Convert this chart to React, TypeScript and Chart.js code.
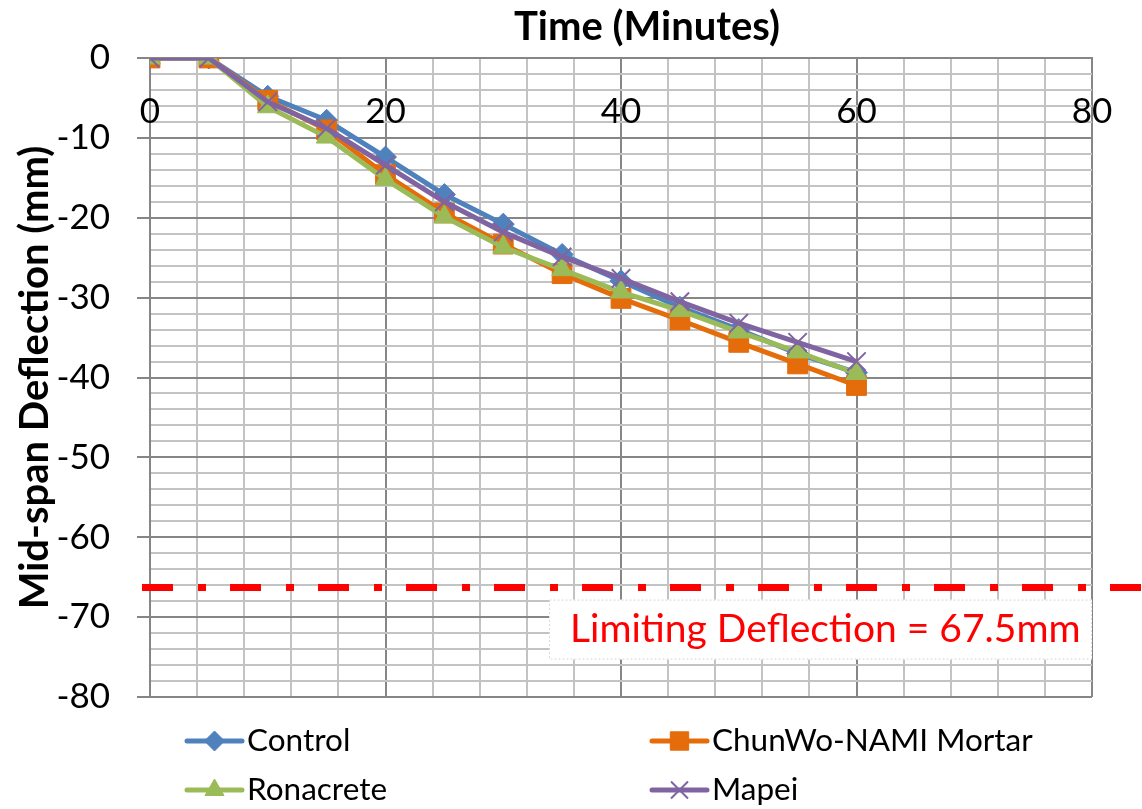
import React, { useEffect, useRef } from 'react';
import { Chart, registerables } from 'chart.js';
import { drawPoint } from 'chart.js/helpers';

Chart.register(...registerables);

// ---------- data ----------
const timeMinutes = [0, 5, 10, 15, 20, 25, 30, 35, 40, 45, 50, 55, 60];
const controlDeflection = [0, 0, -4.8, -7.8, -12.4, -17.1, -20.8, -24.6, -27.9, -31.2, -34.0, -37.0, -39.4];
const chunwoDeflection = [0, 0, -5.3, -9.0, -14.6, -19.4, -23.3, -27.0, -30.1, -32.8, -35.6, -38.3, -41.0];
const ronacreteDeflection = [0, 0, -6.1, -9.9, -15.2, -19.9, -23.7, -26.5, -29.3, -31.6, -34.3, -36.8, -39.5];
const mapeiDeflection = [0, 0, -5.5, -8.8, -13.4, -18.0, -21.8, -24.9, -27.6, -30.5, -33.2, -35.6, -38.0];

const seriesNames = ['Control', 'ChunWo-NAMI Mortar', 'Ronacrete', 'Mapei'];
const xTickLabels = ['0', '20', '40', '60', '80'];
const xTickValues = [0, 20, 40, 60, 80];
const limitValue = -66.3;
const limitLabel = 'Limiting Deflection = 67.5mm';
const xTitle = 'Time (Minutes)';
const yTitle = 'Mid-span Deflection (mm)';

const FONT = 'Lato, "Open Sans", sans-serif';
const COLORS = ['#4F81BD', '#E46C0A', '#9BBB59', '#8064A2'];
const STYLES = ['rectRot', 'rect', 'triangle', 'crossRot'];
const RADII = [11, 14, 12, 13];

const toPoints = (ys: number[]) => timeMinutes.map((x, i) => ({ x, y: ys[i] }));

const MAJOR = '#868686';
const MINOR = '#C3C3C3';

const overlayPlugin = {
  id: 'overlay',
  afterDraw(chart: any) {
    const ctx = chart.ctx as CanvasRenderingContext2D;
    const xs = chart.scales.x;
    const ys = chart.scales.y;
    ctx.save();

    // x tick labels (below the axis line at y = 0)
    ctx.fillStyle = '#000';
    ctx.font = `35px ${FONT}`;
    ctx.textAlign = 'center';
    ctx.textBaseline = 'middle';
    xTickValues.forEach((v, i) => {
      ctx.fillText(xTickLabels[i], xs.getPixelForValue(v), 112);
    });

    // x title
    ctx.font = `bold 40px ${FONT}`;
    ctx.fillText(xTitle, 647, 27);

    // limit line
    const ly = ys.getPixelForValue(limitValue);
    ctx.strokeStyle = '#FF0000';
    ctx.lineWidth = 7;
    ctx.setLineDash([31, 25, 8, 24]);
    ctx.lineCap = 'butt';
    ctx.beginPath();
    ctx.moveTo(142, ly);
    ctx.lineTo(1142, ly);
    ctx.stroke();
    ctx.setLineDash([]);

    // label box
    const bx = 549, by = ly + 12, bw = chart.chartArea.right - 549, bh = 60;
    ctx.fillStyle = '#FFFFFF';
    ctx.fillRect(bx, by, bw, bh);
    ctx.strokeStyle = '#D9D9D9';
    ctx.lineWidth = 1;
    ctx.setLineDash([2, 2]);
    ctx.strokeRect(bx + 0.5, by + 0.5, bw - 1, bh - 1);
    ctx.setLineDash([]);
    ctx.fillStyle = '#FF0000';
    ctx.font = `39px ${FONT}`;
    ctx.textAlign = 'left';
    ctx.fillText(limitLabel, 570, by + bh / 2);

    // legend
    const items = [
      { x: 187, y: 741 },
      { x: 652, y: 741 },
      { x: 187, y: 790 },
      { x: 652, y: 790 },
    ];
    items.forEach((p, i) => {
      const c = COLORS[i];
      ctx.strokeStyle = c;
      ctx.fillStyle = c;
      ctx.lineWidth = 5;
      ctx.lineCap = 'round';
      ctx.beginPath();
      ctx.moveTo(p.x, p.y);
      ctx.lineTo(p.x + 55, p.y);
      ctx.stroke();
      ctx.lineCap = 'butt';
      ctx.lineWidth = i === 3 ? 2 : 1;
      drawPoint(ctx, { pointStyle: STYLES[i], radius: RADII[i] - 1, rotation: 0, borderWidth: ctx.lineWidth } as any, p.x + 27.5, p.y);
      ctx.fillStyle = '#000';
      ctx.font = `31.5px ${FONT}`;
      ctx.textAlign = 'left';
      ctx.textBaseline = 'middle';
      ctx.fillText(seriesNames[i], p.x + 60, p.y);
    });

    ctx.restore();
  },
};

export default function App() {
  const ref = useRef<HTMLCanvasElement>(null);

  useEffect(() => {
    document.body.style.margin = '0';
    const canvas = ref.current!;
    const seriesData = [controlDeflection, chunwoDeflection, ronacreteDeflection, mapeiDeflection];
    const chart = new Chart(canvas, {
      type: 'line',
      data: {
        datasets: seriesData.map((d, i) => ({
          label: seriesNames[i],
          data: toPoints(d),
          borderColor: COLORS[i],
          backgroundColor: COLORS[i],
          borderWidth: 5,
          pointStyle: STYLES[i] as any,
          pointRadius: RADII[i],
          pointBackgroundColor: COLORS[i],
          pointBorderColor: COLORS[i],
          pointBorderWidth: i === 3 ? 2 : 1,
          order: 3 - i,
          tension: 0,
        })),
      },
      options: {
        animation: false,
        responsive: false,
        devicePixelRatio: 1,
        layout: { padding: { top: 0, left: 0, right: 50, bottom: 112 } },
        plugins: {
          legend: { display: false },
          tooltip: { enabled: false },
          title: { display: false },
        },
        scales: {
          x: {
            type: 'linear',
            position: 'top',
            min: 0,
            max: 80,
            ticks: { stepSize: 4, display: false, autoSkip: false },
            grid: {
              drawTicks: false,
              lineWidth: 2,
              color: (c: any) => (c.tick && c.tick.value % 20 === 0 ? MAJOR : MINOR),
            },
            border: { display: true, color: MAJOR, width: 2 },
            afterFit: (s: any) => {
              s.height = 58;
            },
          },
          y: {
            type: 'linear',
            min: -80,
            max: 0,
            ticks: {
              stepSize: 2,
              autoSkip: false,
              padding: 27,
              color: '#000',
              font: { family: FONT, size: 35 },
              callback: (v: any) => (Number(v) % 10 === 0 ? String(v) : ''),
            },
            grid: {
              lineWidth: 2,
              tickLength: 13,
              color: (c: any) => (c.tick && c.tick.value % 10 === 0 ? MAJOR : MINOR),
              tickColor: (c: any) => (c.tick && c.tick.value % 10 === 0 ? MAJOR : 'rgba(0,0,0,0)'),
            },
            border: { display: true, color: MAJOR, width: 2 },
            title: {
              display: true,
              text: yTitle,
              color: '#000',
              font: { family: FONT, size: 40, weight: 'bold' },
              padding: { top: 11, bottom: 0 },
            },
            afterFit: (s: any) => {
              s.width = 150;
            },
          },
        },
      },
      plugins: [overlayPlugin],
    });
    return () => chart.destroy();
  }, []);

  return (
    <div style={{ width: 1142, height: 809, position: 'relative' }}>
      <canvas ref={ref} width={1142} height={809} style={{ width: 1142, height: 809, display: 'block' }} />
    </div>
  );
}
